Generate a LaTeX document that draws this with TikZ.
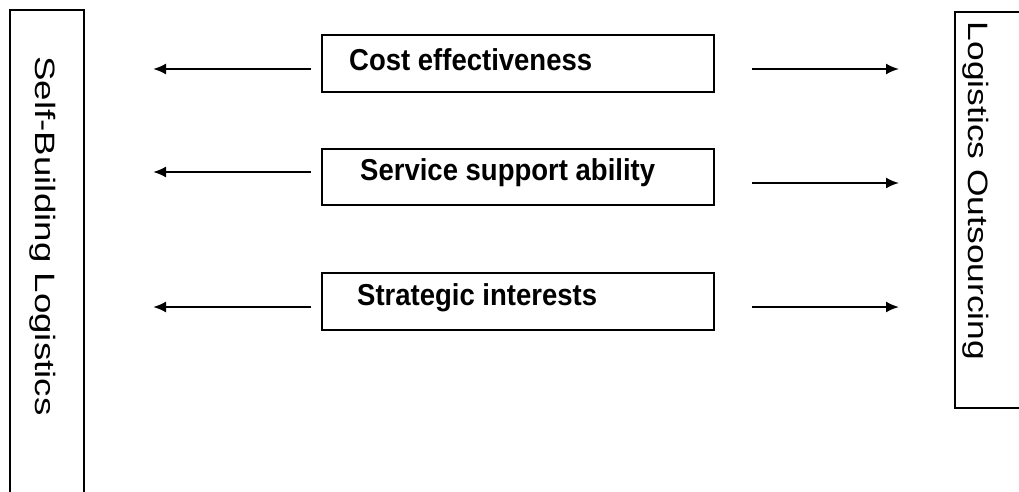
\documentclass[tikz,border=0pt]{standalone}
\usepackage{fontspec}
\setmainfont{Liberation Sans}
\usetikzlibrary{positioning,arrows.meta}

\newcommand{\tallen}[1]{\scalebox{1}[1.1]{#1}}

\tikzset{
  sidebox/.style={draw, line width=1.7pt, inner sep=0pt},
  factorbox/.style={draw, line width=1.7pt, minimum width=392pt, inner sep=0pt},
  factortext/.style={anchor=west, inner sep=0pt, font=\bfseries\fontsize{27.5}{30}\selectfont},
  sidetext/.style={rotate=-90, inner sep=0pt, font=\fontsize{28}{32}\selectfont},
  arr/.style={line width=2pt, -{Latex[length=13pt,width=11pt]}}
}

\begin{document}
\begin{tikzpicture}[x=1pt,y=-1pt]
  \useasboundingbox (0,0) rectangle (1019,492);

  % the two sides
  \node[sidebox, minimum width=74pt, minimum height=490pt] (selfb) at (47,255) {};
  \node[sidebox, minimum width=75pt, minimum height=396pt] (outs) at (992.5,210) {};
  \node[sidetext] (selftxt) at (43,236) {\resizebox{359pt}{\height}{Self-Building Logistics}};
  \node[sidetext] (outstxt) at (976,191) {\resizebox{338pt}{\height}{Logistics Outsourcing}};

  % the three factors
  \node[factorbox, minimum height=57pt] (cost) at (518,63.5) {};
  \node[factorbox, minimum height=56pt] (serv) at (518,177) {};
  \node[factorbox, minimum height=57pt] (strat) at (518,301.5) {};
  \node[factortext] (costtxt) at (349,60) {\tallen{Cost effectiveness}};
  \node[factortext] (servtxt) at (360,173) {\tallen{Service support ability}};
  \node[factortext] (strattxt) at (357,298) {\tallen{Strategic interests}};

  % free ends of the arrows
  \coordinate (costL) at (153,69);
  \coordinate (servL) at (153,172);
  \coordinate (stratL) at (153,307);
  \coordinate (costR) at (899,69);
  \coordinate (servR) at (899,183);
  \coordinate (stratR) at (899,307);

  \draw[arr] ([shift={(-10,5.5)}]cost.west) -- (costL);
  \draw[arr] ([shift={(-10,-5)}]serv.west) -- (servL);
  \draw[arr] ([shift={(-10,5.5)}]strat.west) -- (stratL);
  \draw[arr] ([shift={(37,5.5)}]cost.east) -- (costR);
  \draw[arr] ([shift={(37,6)}]serv.east) -- (servR);
  \draw[arr] ([shift={(37,5.5)}]strat.east) -- (stratR);
\end{tikzpicture}
\end{document}
